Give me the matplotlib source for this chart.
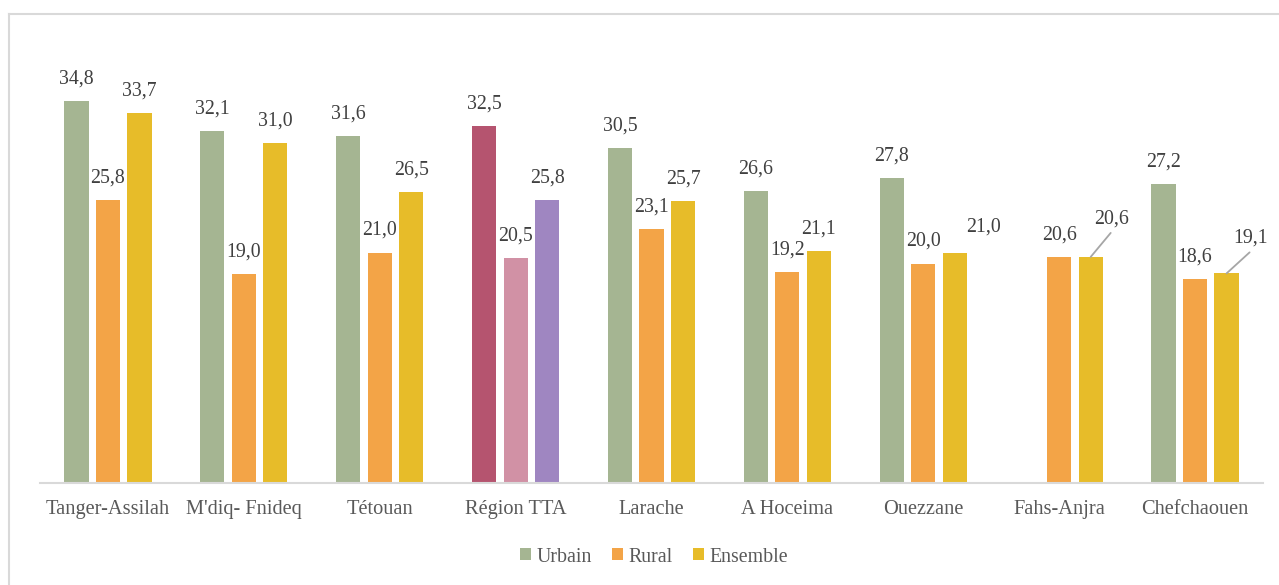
import matplotlib
matplotlib.use("Agg")
import matplotlib.pyplot as plt
import numpy as np
from matplotlib.patches import Patch
from matplotlib.lines import Line2D

categories = ["Tanger-Assilah", "M'diq- Fnideq", "Tétouan", "Région TTA", "Larache",
              "A Hoceima", "Ouezzane", "Fahs-Anjra", "Chefchaouen"]
urbain = [34.8, 32.1, 31.6, 32.5, 30.5, 26.6, 27.8, np.nan, 27.2]
rural = [25.8, 19.0, 21.0, 20.5, 23.1, 19.2, 20.0, 20.6, 18.6]
ensemble = [33.7, 31.0, 26.5, 25.8, 25.7, 21.1, 21.0, 20.6, 19.1]
series_names = ["Urbain", "Rural", "Ensemble"]

series_colors = ["#A5B592", "#F3A447", "#E7BC29"]
highlight_idx = 3
highlight_colors = ["#B5546F", "#D191A5", "#9F86C1"]

# manual label offsets (pixels) : (series, category) -> (dx, dy, leader)
label_adjust = {(2, 6): (29, 25, False), (2, 7): (21, 38, True), (2, 8): (24, 35, True)}

plt.rcParams['font.family'] = ['Liberation Serif', 'DejaVu Serif']

fig = plt.figure(figsize=(12.79, 5.85), dpi=100)
W, H = 1279, 585
ax = fig.add_axes([40 / W, 1 - 483 / H, (1263 - 40) / W, (483 - 44) / H])

x = np.arange(len(categories))
pitch = 0.232
width = 0.178
data = [urbain, rural, ensemble]
for s, vals in enumerate(data):
    cols = [highlight_colors[s] if i == highlight_idx else series_colors[s] for i in range(len(vals))]
    pos = x + (s - 1) * pitch
    ax.bar(pos, np.nan_to_num(vals), width=width, color=cols, edgecolor='none', zorder=2)
    for i, v in enumerate(vals):
        if np.isnan(v):
            continue
        dx, dy, leader = label_adjust.get((s, i), (0, 22, False))
        ax.annotate(f"{v:.1f}".replace('.', ','), xy=(pos[i], v), xytext=(dx, dy),
                    textcoords='offset pixels', ha='center', va='center',
                    fontsize=14.3, color='#404040')
        if leader:
            ax.annotate("", xy=(pos[i], v), xytext=(dx - 1, dy - 14), textcoords='offset pixels',
                        arrowprops=dict(arrowstyle='-', color='#A6A6A6', lw=1.3,
                                        shrinkA=0, shrinkB=0))

ax.set_xlim(-0.5, len(categories) - 0.5)
ax.set_ylim(0, 40)
ax.set_yticks([])
ax.set_xticks(x)
ax.set_xticklabels(categories, fontsize=14.7, color='#595959')
ax.tick_params(axis='x', length=0, pad=12)
for sp in ['top', 'right', 'left']:
    ax.spines[sp].set_visible(False)
ax.spines['bottom'].set_color('#D9D9D9')
ax.spines['bottom'].set_linewidth(1.5)
ax.spines['bottom'].set_zorder(3)

handles = [Patch(facecolor=c, edgecolor='none') for c in series_colors]
leg = fig.legend(handles, series_names, loc='center', bbox_to_anchor=(654 / W, 1 - 557 / H),
                 ncol=3, frameon=False, fontsize=14.3, handlelength=0.55, handleheight=0.55,
                 handletextpad=0.3, columnspacing=1.0, labelcolor='#595959')

# outer chart frame
fig.add_artist(Line2D([9 / W, 1.0], [1 - 13.5 / H] * 2, color='#D9D9D9', lw=1.5))
fig.add_artist(Line2D([9 / W] * 2, [0, 1 - 13.5 / H], color='#D9D9D9', lw=1.5))

fig.savefig("out.png", dpi=100)
